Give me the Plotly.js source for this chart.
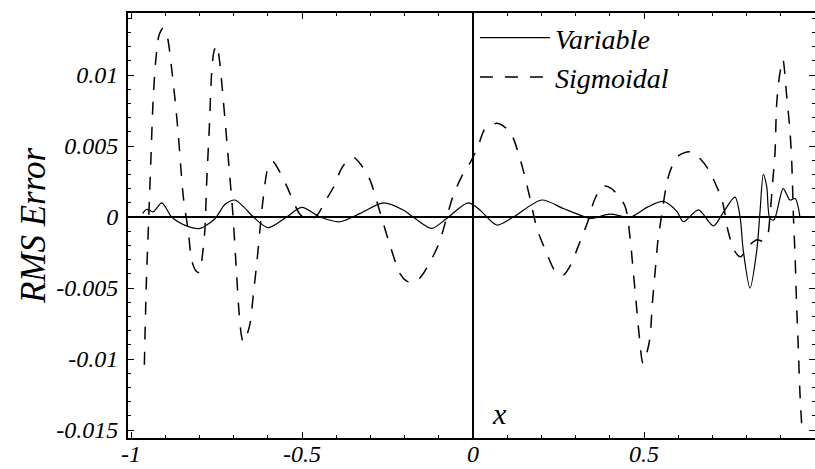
<!DOCTYPE html>
<html>
<head>
<meta charset="utf-8">
<script src="https://cdn.plot.ly/plotly-3.0.1.min.js"></script>
<style>html,body{margin:0;padding:0;background:#fff;}</style>
</head>
<body>
<div id="chart" style="width:815px;height:469px;"></div>
<script>
// Variable (solid)
const varX = [-0.966,-0.954,-0.935,-0.910,-0.881,-0.840,-0.798,-0.754,-0.725,-0.696,-0.670,-0.642,-0.599,-0.545,-0.501,-0.447,-0.389,-0.330,-0.262,-0.204,-0.175,-0.121,-0.077,-0.014,0.020,0.069,0.118,0.201,0.264,0.313,0.345,0.400,0.460,0.510,0.556,0.596,0.615,0.659,0.703,0.731,0.766,0.781,0.790,0.810,0.830,0.839,0.849,0.859,0.868,0.880,0.907,0.927,0.942,0.956];
const varY = [0.00026,0.00054,0.00037,0.0010,0.0000,-0.0006,-0.0008,-0.0001,0.0009,0.0012,0.0007,0.0000,-0.00075,0.0000,0.00068,0.0000,-0.00033,0.00026,0.0010,0.0005,0.0000,-0.0008,-0.0001,0.0010,0.0005,-0.00056,0.0000,0.0012,0.0006,0.00014,-0.0001,0.0002,0.0000,0.0007,0.0011,0.0004,-0.00033,0.0005,-0.00063,0.0003,0.0014,0.0000,-0.0023,-0.0050,-0.0023,0.0003,0.0030,0.0021,-0.0001,-0.0002,0.0020,0.0012,0.0013,0.0000];

// Sigmoidal (dashed)
const sigX = [-0.961,-0.955,-0.948,-0.942,-0.935,-0.927,-0.918,-0.906,-0.894,-0.881,-0.871,-0.862,-0.855,-0.847,-0.832,-0.823,-0.810,-0.801,-0.794,-0.784,-0.779,-0.771,-0.764,-0.757,-0.749,-0.741,-0.733,-0.720,-0.711,-0.703,-0.691,-0.686,-0.678,-0.672,-0.664,-0.652,-0.642,-0.632,-0.623,-0.613,-0.599,-0.585,-0.570,-0.545,-0.506,-0.480,-0.457,-0.430,-0.408,-0.380,-0.350,-0.325,-0.301,-0.275,-0.249,-0.213,-0.195,-0.178,-0.160,-0.146,-0.102,-0.058,-0.030,-0.009,0.015,0.035,0.070,0.108,0.140,0.164,0.187,0.213,0.240,0.263,0.285,0.307,0.336,0.355,0.380,0.405,0.444,0.459,0.468,0.477,0.485,0.497,0.510,0.518,0.524,0.532,0.541,0.547,0.573,0.600,0.634,0.660,0.687,0.728,0.746,0.765,0.783,0.800,0.830,0.848,0.862,0.868,0.876,0.883,0.888,0.896,0.906,0.917,0.927,0.932,0.937,0.942,0.946,0.951,0.956,0.962];
const sigY = [-0.0104,-0.0045,0.0000,0.0040,0.0084,0.0112,0.0128,0.0133,0.0127,0.0104,0.0082,0.0059,0.0037,0.0014,-0.0011,-0.0030,-0.0038,-0.0039,-0.0032,-0.0009,0.0023,0.0063,0.0102,0.0117,0.0121,0.0110,0.0090,0.0054,0.0028,0.0005,-0.0041,-0.0061,-0.0082,-0.0088,-0.0085,-0.0075,-0.0054,-0.0032,-0.0009,0.0014,0.0035,0.0039,0.0034,0.0022,0.0002,-0.0002,0.0001,0.0012,0.0021,0.0036,0.0042,0.0036,0.0026,0.0006,-0.0015,-0.0040,-0.0045,-0.0046,-0.0044,-0.0040,-0.0020,0.0015,0.0030,0.0038,0.0050,0.0062,0.0066,0.0060,0.0039,0.0016,-0.0008,-0.0024,-0.0038,-0.0041,-0.0034,-0.0021,-0.0003,0.0012,0.0022,0.0020,0.0008,-0.0014,-0.0037,-0.0060,-0.0081,-0.0103,-0.0094,-0.0084,-0.0062,-0.0040,-0.0016,-0.0006,0.0030,0.0043,0.0046,0.0042,0.0034,0.0012,-0.0010,-0.0024,-0.0028,-0.0022,-0.0016,-0.0017,-0.0012,0.0000,0.0024,0.0045,0.0080,0.0099,0.0111,0.0086,0.0060,0.0039,0.0000,-0.0029,-0.0060,-0.0091,-0.0124,-0.0150];

const xTickVals = [-1, -0.5, 0, 0.5];
const xTickText = ['-1', '-0.5', '0', '0.5'];
const yTickVals = [0.01, 0.005, 0, -0.005, -0.01, -0.015];
const yTickText = ['0.01', '0.005', '0', '-0.005', '-0.01', '-0.015'];
const seriesNames = ['Variable', 'Sigmoidal'];

const serif = 'Liberation Serif';

const traces = [
  {x: varX, y: varY, name: seriesNames[0], type: 'scatter', mode: 'lines',
   line: {color: '#000', width: 1.2, shape: 'spline', smoothing: 0.8}},
  {x: sigX, y: sigY, name: seriesNames[1], type: 'scatter', mode: 'lines',
   line: {color: '#000', width: 1.5, dash: '13px,12px', shape: 'spline', smoothing: 0.8}}
];

const axisCommon = {
  showgrid: false, showline: true, linecolor: '#000', linewidth: 2, mirror: 'allticks',
  ticks: 'inside', ticklen: 6, tickwidth: 1, tickcolor: '#000',
  zeroline: true, zerolinecolor: '#000', zerolinewidth: 2,
  tickmode: 'array',
  tickfont: {family: serif, size: 24, style: 'italic', color: '#000'},
  automargin: false
};

const layout = {
  width: 815, height: 469,
  margin: {l: 128, r: 0, t: 13, b: 31, pad: 0},
  paper_bgcolor: '#fff', plot_bgcolor: '#fff',
  font: {family: serif},
  showlegend: true,
  legend: {x: 0.505, y: 1.0, xanchor: 'left', yanchor: 'top', bgcolor: 'rgba(0,0,0,0)',
           font: {family: serif, size: 28, style: 'italic', color: '#000'}, itemwidth: 70},
  xaxis: Object.assign({}, axisCommon, {
    range: [-1.0088, 1.0], tickvals: xTickVals, ticktext: xTickText, ticklabelstandoff: -7,
    minor: {tickmode: 'linear', tick0: 0, dtick: 0.1, ticks: 'inside', ticklen: 3, tickcolor: '#000', tickwidth: 1, showgrid: false}
  }),
  yaxis: Object.assign({}, axisCommon, {
    range: [-0.01556, 0.01437], tickvals: yTickVals, ticktext: yTickText, ticklabelstandoff: 3,
    minor: {tickmode: 'linear', tick0: 0, dtick: 0.001, ticks: 'inside', ticklen: 3, tickcolor: '#000', tickwidth: 1, showgrid: false},
    title: {text: 'RMS Error', font: {family: serif, size: 35, style: 'italic', color: '#000'}, standoff: 0}
  }),
  annotations: [
    {x: 0.076, y: -0.0138, xref: 'x', yref: 'y', text: 'x', showarrow: false,
     font: {family: serif, size: 30, style: 'italic', color: '#000'}}
  ]
};

Plotly.newPlot('chart', traces, layout, {displayModeBar: false, staticPlot: true});
</script>
</body>
</html>
